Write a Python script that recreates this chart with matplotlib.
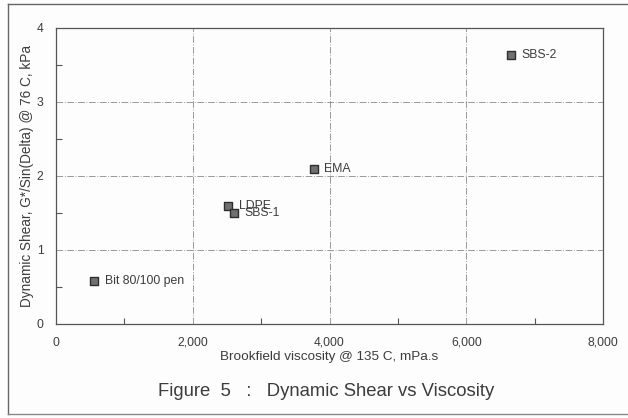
import matplotlib
matplotlib.use("Agg")
import matplotlib.pyplot as plt
from matplotlib.lines import Line2D
from matplotlib.ticker import MultipleLocator, FuncFormatter

names = ["Bit 80/100 pen", "LDPE", "SBS-1", "EMA", "SBS-2"]
viscosity = [560, 2520, 2600, 3770, 6660]
shear = [0.585, 1.6, 1.5, 2.1, 3.635]
x_ticks = [0, 2000, 4000, 6000, 8000]
y_ticks = [0, 1, 2, 3, 4]

plt.rcParams['font.family'] = ['Liberation Sans', 'DejaVu Sans']
txt = '#3c3c3c'

fig = plt.figure(figsize=(6.28, 4.18), dpi=100)
fig.patch.set_facecolor('#fdfdfd')
ax = fig.add_axes([56/628, 1-324/418, (603-56)/628, (324-28)/418])
ax.set_facecolor('#fdfdfd')

ax.scatter(viscosity, shear, marker='s', s=38, facecolor='#707070',
           edgecolor='#2e2e2e', linewidth=1.0, zorder=3)
for n, xv, yv in zip(names, viscosity, shear):
    ax.annotate(n, (xv, yv), xytext=(7.5, 0), textcoords='offset points',
                va='center', ha='left', fontsize=8.8, color=txt, zorder=4)

ax.set_xlim(0, 8000)
ax.set_ylim(0, 4)
ax.set_xticks(x_ticks)
ax.set_yticks(y_ticks)
ax.xaxis.set_minor_locator(MultipleLocator(1000))
ax.yaxis.set_minor_locator(MultipleLocator(0.5))
ax.xaxis.set_major_formatter(FuncFormatter(lambda v, p: f"{int(v):,}"))
ax.tick_params(axis='both', which='both', direction='in', colors='#555555',
               labelcolor=txt, labelsize=8.7, width=0.8)
ax.tick_params(which='major', length=0, pad=9)
ax.tick_params(which='minor', length=4)
ax.tick_params(axis='y', which='major', pad=9)
ax.grid(True, which='major', color='#8a8a8a', linestyle='-.', linewidth=0.6, dashes=(8, 2, 1, 2))
for s in ax.spines.values():
    s.set_color('#555555')
    s.set_linewidth(0.9)

ax.set_xlabel("Brookfield viscosity @ 135 C, mPa.s", fontsize=9.7, color=txt, labelpad=2)
ax.set_ylabel("Dynamic Shear, G*/Sin(Delta) @ 76 C, kPa", fontsize=9.8, color=txt, labelpad=2)

fig.text(326/628, 1-391/418, "Figure  5   :   Dynamic Shear vs Viscosity",
         ha='center', va='center', fontsize=13.3, color=txt)

# outer frame
fig.add_artist(Line2D([8/628, 1.0], [1-4/418, 1-4/418], color='#666666', lw=1.0, transform=fig.transFigure))
fig.add_artist(Line2D([8/628, 8/628], [1-4/418, 1-414/418], color='#666666', lw=1.0, transform=fig.transFigure))
fig.add_artist(Line2D([8/628, 1.0], [1-414/418, 1-414/418], color='#888888', lw=1.0, transform=fig.transFigure))

fig.savefig("out.png", dpi=100, facecolor=fig.get_facecolor())
